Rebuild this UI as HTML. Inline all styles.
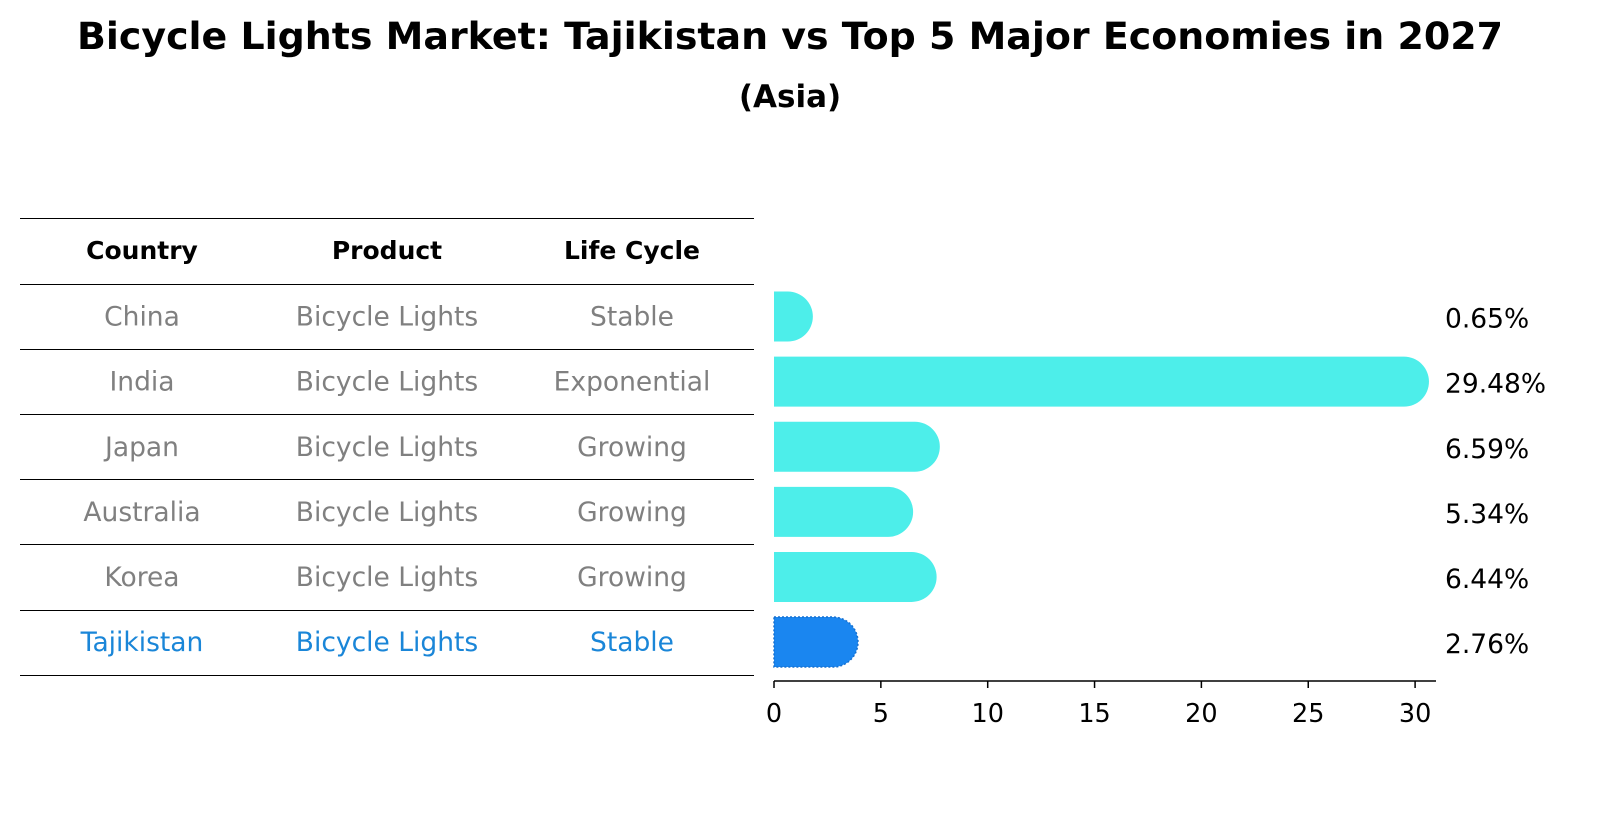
<!DOCTYPE html>
<html><head><meta charset="utf-8"><style>
body{margin:0;background:#fff;font-family:"Liberation Sans","DejaVu Sans",sans-serif;}
#wrap{position:relative;width:1604px;height:823px;overflow:hidden}
</style></head><body>
<div id="wrap">
<svg id="svg" width="1604" height="823" xmlns="http://www.w3.org/2000/svg">
<text x="790" y="49" text-anchor="middle" font-size="37.5" font-weight="bold" textLength="1426" lengthAdjust="spacingAndGlyphs" font-family="DejaVu Sans, sans-serif">Bicycle Lights Market: Tajikistan vs Top 5 Major Economies in 2027</text>
<text x="790" y="107" text-anchor="middle" font-size="31" font-weight="bold" font-family="DejaVu Sans, sans-serif">(Asia)</text>
<g id="table" font-family="DejaVu Sans, sans-serif" font-size="26.5" text-anchor="middle"></g>
<g id="bars"></g>
<g id="axis" font-family="DejaVu Sans, sans-serif" font-size="25.5"></g>
</svg>
</div>
<script>
const countries=["China","India","Japan","Australia","Korea","Tajikistan"];
const products=["Bicycle Lights","Bicycle Lights","Bicycle Lights","Bicycle Lights","Bicycle Lights","Bicycle Lights"];
const lifeCycles=["Stable","Exponential","Growing","Growing","Growing","Stable"];
const values=[0.65,29.48,6.59,5.34,6.44,2.76];
const tickValues=[0,5,10,15,20,25,30];
const NS="http://www.w3.org/2000/svg";
function mk(tag,attrs,parent){const e=document.createElementNS(NS,tag);for(const k in attrs)e.setAttribute(k,attrs[k]);parent.appendChild(e);return e;}
const x0=774, pxPer=21.37;
function xs(v){return x0+v*pxPer;}
const rowTop=284, rowH=65.1;
function yc(i){return rowTop+rowH*i+rowH/2;}
const table=document.getElementById('table');
const lineYs=[218,284];
for(let i=1;i<=countries.length;i++)lineYs.push(Math.round(rowTop+rowH*i));
lineYs.forEach(y=>{const l=mk('line',{x1:20,x2:754,y1:y+0.5,y2:y+0.5,stroke:'#000','stroke-width':1},table);

});
const colX=[142,387,632];
["Country","Product","Life Cycle"].forEach((h,j)=>{const t=mk('text',{x:colX[j],y:259,'font-weight':'bold','font-size':25},table);t.textContent=h;

});
countries.forEach((c,i)=>{
  const col=c==="Tajikistan"?"#1a86d8":"#808080";
  [c,products[i],lifeCycles[i]].forEach((s,j)=>{const t=mk('text',{x:colX[j],y:yc(i)+9,fill:col},table);t.textContent=s;
  
  });
});
const bars=document.getElementById('bars');
const bh=50, r=25;
values.forEach((v,i)=>{
  const y=yc(i)-bh/2, xe=xs(v);
  const taj=countries[i]==="Tajikistan";
  const col=taj?"#1a86f0":"#4deeea";
  const d=`M${x0},${y} H${xe} A${r},${r} 0 0 1 ${xe},${y+bh} H${x0} Z`;
  const attrs={d:d,fill:col};
  if(taj){attrs.stroke='#1670d0';attrs['stroke-width']=1.5;attrs['stroke-dasharray']='2,2';}
  const p=mk('path',attrs,bars);
  
  
  const t=mk('text',{x:1445,y:yc(i)+11,'font-size':26.5,'font-family':'DejaVu Sans, sans-serif'},bars);
  t.textContent=v.toFixed(2)+'%';
  
  
});
const axis=document.getElementById('axis');
const al=mk('line',{x1:x0,x2:1436,y1:681,y2:681,stroke:'#000','stroke-width':1.5},axis);


tickValues.forEach(v=>{
  const tl=mk('line',{x1:xs(v),x2:xs(v),y1:681,y2:688,stroke:'#000','stroke-width':1.5},axis);
  
  
  const t=mk('text',{x:xs(v),y:722,'text-anchor':'middle'},axis);t.textContent=v;
  
  
});
</script>
</body></html>
